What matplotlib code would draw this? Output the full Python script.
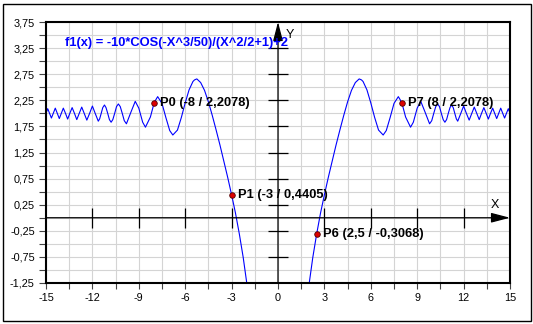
import matplotlib
matplotlib.use('Agg')
import matplotlib.pyplot as plt
from matplotlib.patches import Rectangle

# f1(x) = -10*COS(-X^3/50)/(X^2/2+1)+2, right half.
# The curve is symmetric about x = 0, so the left half is the mirror image.
half_x = [2.02, 2.25, 2.5, 2.75, 3.0, 3.25, 3.5, 3.75, 4.0, 4.25,
          4.5, 4.75, 5.0, 5.25, 5.4, 5.5, 5.75, 6.0, 6.25, 6.5,
          6.8, 7.0, 7.25, 7.5, 7.78, 8.0, 8.25, 8.57, 8.75, 9.0,
          9.23, 9.5, 9.8, 9.94, 10.07, 10.2, 10.32, 10.44, 10.56, 10.68,
          10.79, 10.9, 11.01, 11.12, 11.22, 11.33, 11.43, 11.53, 11.62, 11.82,
          12.0, 12.18, 12.36, 12.53, 12.69, 12.85, 13.01, 13.16, 13.31, 13.46,
          13.6, 13.74, 13.88, 14.01, 14.14, 14.27, 14.4, 14.53, 14.65, 14.77,
          14.89, 15.0]
half_y = [-1.25, -0.76, -0.31, 0.09, 0.44, 0.77, 1.08, 1.39, 1.68, 1.96,
          2.22, 2.44, 2.59, 2.66, 2.64, 2.61, 2.45, 2.20, 1.92, 1.68,
          1.585, 1.67, 1.92, 2.19, 2.32, 2.21, 1.93, 1.735, 1.83, 2.10,
          2.23, 2.03, 1.80, 1.86, 2.0, 2.13, 2.18, 2.13, 2.0, 1.88,
          1.83, 1.88, 2.0, 2.11, 2.16, 2.11, 2.0, 1.895, 1.85, 2.0,
          2.14, 2.0, 1.87, 2.0, 2.12, 2.0, 1.88, 2.0, 2.11, 2.0,
          1.89, 2.0, 2.10, 2.0, 1.90, 2.0, 2.10, 2.0, 1.91, 2.0,
          2.09, 2.0]

# marked points
point_names = ['P0', 'P1', 'P6', 'P7']
point_x = [-8, -3, 2.5, 8]
point_y = [2.2078, 0.4405, -0.3068, 2.2078]
point_vals = ['-8 / 2,2078', '-3 / 0,4405', '2,5 / -0,3068', '8 / 2,2078']

title = 'f1(x) = -10*COS(-X^3/50)/(X^2/2+1)+2'

# frame ticks / grid
x_ticks = [-15, -13.5, -12, -10.5, -9, -7.5, -6, -4.5, -3, -1.5, 0,
           1.5, 3, 4.5, 6, 7.5, 9, 10.5, 12, 13.5, 15]
x_tick_labels = ['-15', '', '-12', '', '-9', '', '-6', '', '-3', '', '0',
                 '', '3', '', '6', '', '9', '', '12', '', '15']
y_ticks = [-1.25, -1.0, -0.75, -0.5, -0.25, 0, 0.25, 0.5, 0.75, 1.0, 1.25,
           1.5, 1.75, 2.0, 2.25, 2.5, 2.75, 3.0, 3.25, 3.5, 3.75]
y_tick_labels = ['-1,25', '', '-0,75', '', '-0,25', '', '0,25', '', '0,75', '',
                 '1,25', '', '1,75', '', '2,25', '', '2,75', '', '3,25', '', '3,75']

# ticks drawn on the black x / y axes
xaxis_marks = [-12, -9, -6, -3, 3, 6, 9, 12]
yaxis_marks = [-0.75, -0.25, 0.25, 0.75, 1.25, 1.75, 2.25, 2.75, 3.25]

plt.rcParams['font.family'] = ['Liberation Sans', 'DejaVu Sans']

fig = plt.figure(figsize=(5.33, 3.24), dpi=100)
ax = fig.add_axes([46 / 533, 41 / 324, 464 / 533, 261 / 324])

# outer border of the picture
fig.patches.append(Rectangle((2.5 / 533, 3.5 / 324), 528 / 533, 316.5 / 324,
                             transform=fig.transFigure, fill=False,
                             edgecolor='black', lw=1.0))

ax.set_xlim(-15, 15)
ax.set_ylim(-1.25, 3.75)
ax.set_xticks(x_ticks)
ax.set_xticklabels(x_tick_labels, fontsize=7.8)
ax.set_yticks(y_ticks)
ax.set_yticklabels(y_tick_labels, fontsize=7.8)
ax.tick_params(axis='both', direction='out', color='#444444', width=0.8)
ax.tick_params(axis='x', length=4, pad=3)
ax.tick_params(axis='y', length=5, pad=3)
ax.grid(True, color='#d4d4d4', lw=0.8)
ax.set_axisbelow(True)
for s in ax.spines.values():
    s.set_color('black')
    s.set_linewidth(1.5)

# black x / y axes with arrow heads
arrow = dict(arrowstyle='-|>,head_length=1.15,head_width=0.3', color='black',
             lw=0.9, mutation_scale=10, shrinkA=0, shrinkB=0)
ax.annotate('', xy=(1, 0), xycoords=('axes fraction', 'data'),
            xytext=(0, 0), textcoords=('axes fraction', 'data'), arrowprops=arrow)
ax.annotate('', xy=(0, 1), xycoords=('data', 'axes fraction'),
            xytext=(0, 0), textcoords=('data', 'axes fraction'), arrowprops=arrow)
ax.annotate('X', xy=(1, 0), xycoords=('axes fraction', 'data'),
            xytext=(-15, 13), textcoords='offset pixels',
            ha='center', va='center', fontsize=9)
ax.annotate('Y', xy=(0, 1), xycoords=('data', 'axes fraction'),
            xytext=(12, -13), textcoords='offset pixels',
            ha='center', va='center', fontsize=9)
ax.plot(xaxis_marks, [0] * len(xaxis_marks), ls='none', marker='|',
        ms=14, mew=0.9, color='black')
ax.plot([0] * len(yaxis_marks), yaxis_marks, ls='none', marker='_',
        ms=14, mew=0.9, color='black')

# curve, left and right branches
left_x = [-v for v in half_x[::-1]]
left_y = half_y[::-1]
ax.plot(left_x, left_y, color='#0000ff', lw=0.8)
ax.plot(half_x, half_y, color='#0000ff', lw=0.8)

ax.text(19 / 464, 1 - 21 / 261, title, transform=ax.transAxes,
        color='#0000ff', fontsize=9.3, fontweight='bold', va='center')

# marked points and their labels
ax.plot(point_x, point_y, ls='none', marker='o', ms=4, mfc='#dd0000',
        mec='#500000', mew=0.6, zorder=5)
for name, px, py, val in zip(point_names, point_x, point_y, point_vals):
    ax.annotate(f'{name} ({val})', xy=(px, py), xytext=(6, 0),
                textcoords='offset pixels', fontsize=9.3, fontweight='bold',
                va='center', ha='left')

fig.savefig('out.png', dpi=100)
